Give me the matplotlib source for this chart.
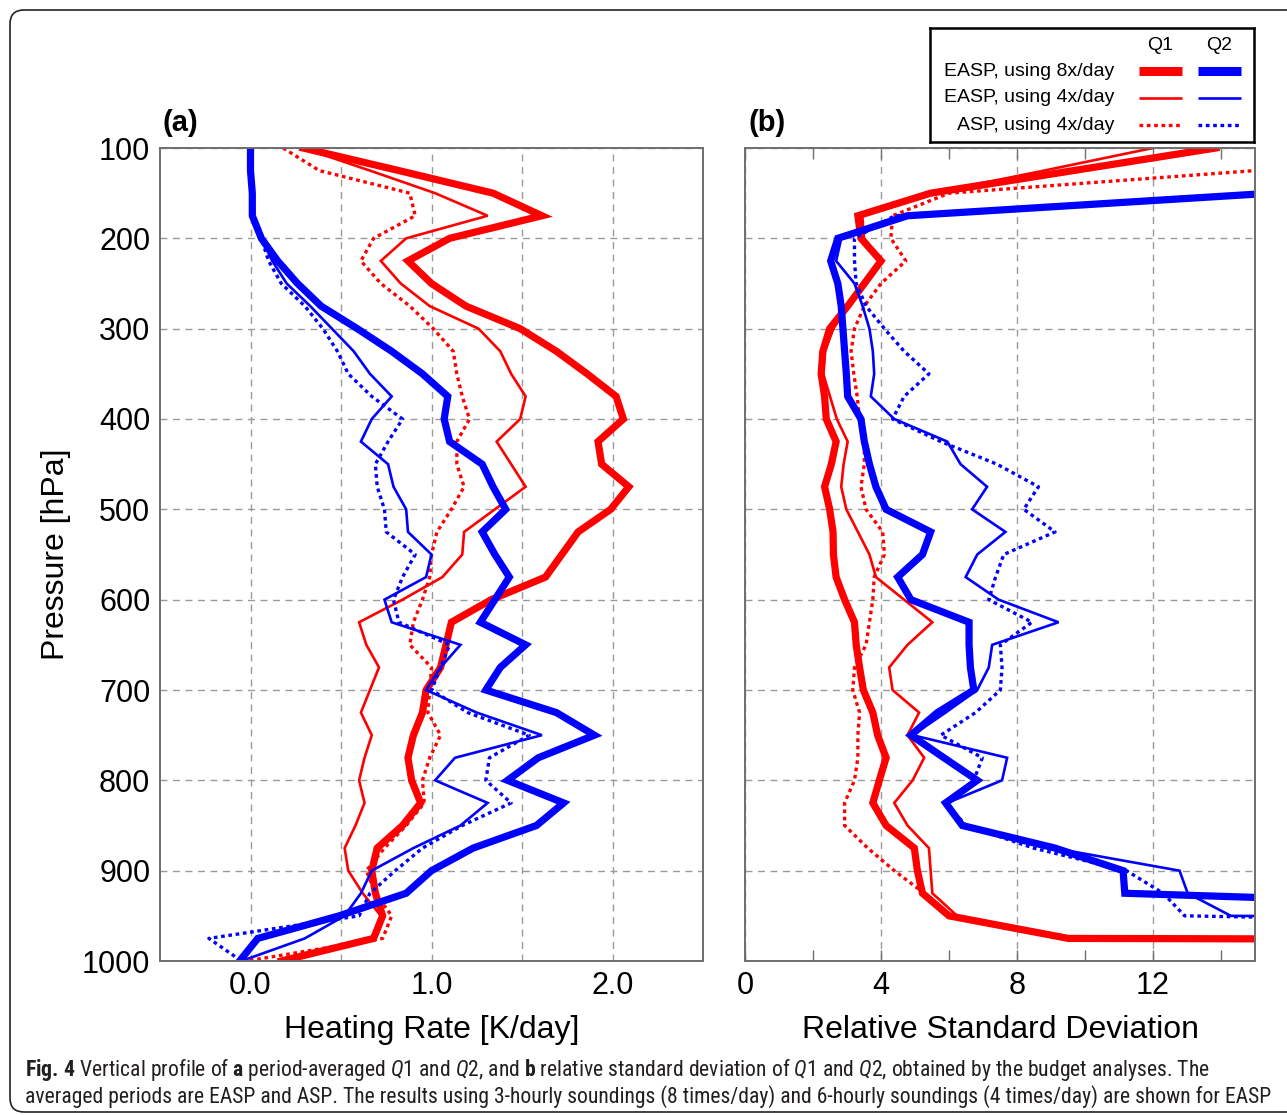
"""
plot.py

Vertical profiles of Q1 / Q2 (panel a) and their relative standard deviation (panel b).
"""

import matplotlib
matplotlib.use("Agg")
import matplotlib.pyplot as plt
from matplotlib import font_manager as fm
from matplotlib.patches import FancyBboxPatch
from matplotlib.ticker import FixedLocator


W, H = 1287, 1115
DPI  = 100

RED  = "#FF0000"
BLUE = "#0000FF"
GRID = "#9a9a9a"
EDGE = "#6e6e6e"

# ── Data (pressure levels every 25 hPa) ───────────────────────────────────────

levels = [100, 125, 150, 175, 200, 225, 250, 275, 300, 325, 350, 375, 400,
          425, 450, 475, 500, 525, 550, 575, 600, 625, 650, 675, 700,
          725, 750, 775, 800, 825, 850, 875, 900, 925, 950, 975, 1000]

# panel (a): heating rate [K/day]
q1_8x_a  = [0.29, 0.82, 1.34, 1.61, 1.10, 0.87, 1.00, 1.19, 1.49, 1.69, 1.86, 2.02, 2.06,
            1.92, 1.94, 2.09, 1.99, 1.81, 1.72, 1.63, 1.33, 1.11, 1.08, 1.05, 0.97,
            0.95, 0.90, 0.87, 0.89, 0.94, 0.84, 0.70, 0.67, 0.69, 0.73, 0.68, 0.17]
q1_4x_a  = [0.29, 0.66, 1.02, 1.31, 0.86, 0.72, 0.83, 0.99, 1.26, 1.38, 1.44, 1.52, 1.49,
            1.36, 1.44, 1.52, 1.35, 1.18, 1.17, 1.06, 0.84, 0.60, 0.64, 0.71, 0.66,
            0.61, 0.67, 0.63, 0.60, 0.63, 0.58, 0.52, 0.54, 0.62, 0.72, 0.67, 0.17]
q1_asp_a = [0.18, 0.38, 0.88, 0.91, 0.68, 0.61, 0.72, 0.88, 1.01, 1.12, 1.14, 1.17, 1.21,
            1.14, 1.14, 1.18, 1.11, 1.03, 1.00, 0.99, 0.95, 0.90, 0.88, 1.00, 0.99,
            0.98, 1.05, 0.99, 0.95, 0.96, 0.86, 0.74, 0.64, 0.69, 0.78, 0.73, -0.02]
q2_8x_a  = [0.00, 0.00, 0.01, 0.01, 0.06, 0.15, 0.26, 0.39, 0.59, 0.78, 0.95, 1.09, 1.07,
            1.10, 1.28, 1.34, 1.41, 1.28, 1.35, 1.43, 1.35, 1.27, 1.52, 1.38, 1.30,
            1.69, 1.90, 1.59, 1.42, 1.73, 1.58, 1.23, 1.00, 0.86, 0.49, 0.04, -0.06]
q2_4x_a  = [0.00, 0.00, 0.01, 0.01, 0.06, 0.12, 0.20, 0.33, 0.45, 0.57, 0.66, 0.78, 0.67,
            0.61, 0.76, 0.79, 0.86, 0.87, 1.00, 0.97, 0.74, 0.78, 1.16, 1.05, 0.97,
            1.25, 1.61, 1.13, 1.02, 1.31, 1.16, 0.90, 0.67, 0.61, 0.52, 0.30, -0.05]
q2_asp_a = [0.00, 0.00, 0.01, 0.01, 0.06, 0.10, 0.17, 0.30, 0.40, 0.48, 0.54, 0.67, 0.84,
            0.76, 0.69, 0.70, 0.74, 0.75, 0.91, 0.84, 0.79, 0.82, 1.10, 1.05, 1.00,
            1.20, 1.54, 1.32, 1.30, 1.44, 1.17, 0.95, 0.80, 0.66, 0.60, -0.23, -0.05]

# panel (b): relative standard deviation (values > 15 run off the axes)
q1_8x_b  = [13.85, 9.66, 5.46, 3.32, 3.41, 4.00, 3.51, 3.02, 2.49, 2.29, 2.24, 2.34, 2.39,
            2.68, 2.54, 2.34, 2.49, 2.59, 2.60, 2.68, 2.93, 3.22, 3.27, 3.37, 3.48,
            3.76, 3.90, 4.15, 3.95, 3.76, 4.15, 4.98, 5.07, 5.22, 6.00, 9.51, 300.0]
q1_4x_b  = [12.0, 8.8, 5.5, 3.45, 3.5, 4.05, 3.5, 3.0, 2.6, 2.35, 2.3, 2.5, 2.7,
            3.02, 2.9, 2.83, 2.98, 3.32, 3.66, 3.85, 4.68, 5.51, 4.78, 4.24, 4.34,
            5.12, 4.78, 5.27, 4.93, 4.39, 4.78, 5.41, 5.46, 5.51, 6.24, 9.51, 300.0]
q1_asp_b = [40.0, 15.0, 6.0, 4.34, 4.29, 4.73, 4.0, 3.51, 3.22, 3.12, 3.2, 3.3, 3.37,
            3.51, 3.51, 3.41, 3.56, 4.05, 4.1, 3.8, 3.76, 3.66, 3.56, 3.22, 3.17,
            3.37, 3.32, 3.32, 3.22, 2.93, 2.93, 3.61, 4.39, 5.27, 6.0, 9.51, 300.0]
q2_8x_b  = [40.0, 30.0, 15.5, 4.78, 2.73, 2.52, 2.73, 2.83, 2.88, 2.93, 2.98, 3.02, 3.41,
            3.51, 3.66, 3.85, 4.15, 5.46, 5.22, 4.49, 4.88, 6.59, 6.59, 6.63, 6.73,
            5.66, 4.88, 5.85, 6.83, 5.90, 6.39, 9.12, 11.12, 11.17, 32.0, 200.0, 200.0]
q2_4x_b  = [40.0, 30.0, 15.5, 4.6, 2.83, 2.68, 3.22, 3.46, 3.66, 3.76, 3.8, 3.7, 4.39,
            5.95, 6.34, 7.12, 6.68, 7.66, 6.83, 6.49, 7.46, 9.22, 7.27, 7.17, 6.83,
            5.9, 4.93, 7.71, 7.56, 5.95, 6.39, 9.07, 12.78, 13.02, 14.29, 100.0, 100.0]
q2_asp_b = [40.0, 30.0, 15.5, 4.4, 3.22, 3.22, 3.27, 3.56, 4.1, 4.68, 5.41, 4.68, 4.34,
            5.76, 7.41, 8.63, 8.2, 9.12, 7.61, 7.37, 7.17, 8.44, 7.51, 7.56, 7.51,
            6.78, 5.76, 6.98, 6.73, 5.90, 6.5, 8.49, 11.22, 12.3, 12.93, 50.0, 50.0]

legend_rows = ["EASP, using 8x/day", "EASP, using 4x/day", "ASP, using 4x/day"]
legend_cols = ["Q1", "Q2"]

p_ticks       = [100, 200, 300, 400, 500, 600, 700, 800, 900, 1000]
a_ticks       = [0.0, 0.5, 1.0, 1.5, 2.0]
a_ticklabels  = ["0.0", "", "1.0", "", "2.0"]
b_ticks       = [0, 4, 8, 12]
b_minor_ticks = [2, 6, 10, 14]

# ── Styles ────────────────────────────────────────────────────────────────────

STYLES = [
    dict(lw=5.2, ls="-"),
    dict(lw=1.9, ls="-"),
    dict(lw=2.4, ls=(0, (1.1, 1.1))),
]


def first_font(names):
    for n in names:
        try:
            fm.findfont(fm.FontProperties(family=n), fallback_to_default=False)
            return n
        except ValueError:
            pass
    return "DejaVu Sans"


MAIN_FONT    = first_font(["Liberation Sans", "Arial", "DejaVu Sans"])
CAPTION_FONT = first_font(["Liberation Sans Narrow", "Roboto Condensed", "Liberation Sans"])

plt.rcParams["font.family"]       = [MAIN_FONT, "DejaVu Sans"]
plt.rcParams["mathtext.fontset"]  = "custom"
plt.rcParams["mathtext.rm"]       = CAPTION_FONT
plt.rcParams["mathtext.it"]       = CAPTION_FONT + ":italic"
plt.rcParams["mathtext.bf"]       = CAPTION_FONT + ":bold"


def px_box(x0, y0, x1, y1):
    """pixel box (top-left origin) -> figure fraction rect"""
    return [x0 / W, 1 - y1 / H, (x1 - x0) / W, (y1 - y0) / H]


def style_axes(ax):
    for s in ax.spines.values():
        s.set_color(EDGE)
        s.set_linewidth(1.4)
    ax.set_ylim(1000, 100)
    ax.yaxis.set_major_locator(FixedLocator(p_ticks))
    ax.grid(True, which="major", color=GRID, ls=(0, (5, 4)), lw=1.0)
    ax.tick_params(which="both", direction="in", top=True, right=True,
                   color=EDGE, labelsize=22, pad=7)
    ax.tick_params(which="major", length=0)
    ax.tick_params(which="minor", length=8, width=1.0)
    ax.set_axisbelow(True)


fig = plt.figure(figsize=(W / DPI, H / DPI), dpi=DPI)

# outer rounded frame
fig.patches.append(FancyBboxPatch((10, 3), 1300, 1102,
                                  boxstyle="round,pad=0,rounding_size=14",
                                  transform=None, fill=False,
                                  ec="#222222", lw=1.2))

# ── Panel (a) ─────────────────────────────────────────────────────────────────
ax_a = fig.add_axes(px_box(160, 148, 703, 961))
style_axes(ax_a)
for vals, st in zip([q1_8x_a, q1_4x_a, q1_asp_a], STYLES):
    ax_a.plot(vals, levels, color=RED, solid_joinstyle="miter", **st)
for vals, st in zip([q2_8x_a, q2_4x_a, q2_asp_a], STYLES):
    ax_a.plot(vals, levels, color=BLUE, solid_joinstyle="miter", **st)
ax_a.set_xlim(-0.5, 2.5)
ax_a.set_xticks(a_ticks)
ax_a.set_xticklabels(a_ticklabels)
ax_a.set_ylabel("Pressure [hPa]", fontsize=23, labelpad=8)
ax_a.set_xlabel("Heating Rate [K/day]", fontsize=23, labelpad=10)

# ── Panel (b) ─────────────────────────────────────────────────────────────────
ax_b = fig.add_axes(px_box(745, 148, 1255, 961))
style_axes(ax_b)
for vals, st in zip([q1_8x_b, q1_4x_b, q1_asp_b], STYLES):
    ax_b.plot(vals, levels, color=RED, solid_joinstyle="miter", **st)
for vals, st in zip([q2_8x_b, q2_4x_b, q2_asp_b], STYLES):
    ax_b.plot(vals, levels, color=BLUE, solid_joinstyle="miter", **st)
ax_b.set_xlim(0, 15)
ax_b.set_xticks(b_ticks)
ax_b.xaxis.set_minor_locator(FixedLocator(b_minor_ticks))
ax_b.tick_params(axis="y", labelleft=False)
ax_b.tick_params(axis="x", which="major", length=8, width=1.0)
ax_b.set_xlabel("Relative Standard Deviation", fontsize=23, labelpad=10)

fig.text(163 / W, 1 - 123 / H, "(a)", fontsize=21, weight="bold", va="center")
fig.text(748 / W, 1 - 123 / H, "(b)", fontsize=21, weight="bold", va="center")

# ── Legend box ────────────────────────────────────────────────────────────────
lg = fig.add_axes(px_box(930, 28, 1254, 142))
lg.set_xlim(930, 1254)
lg.set_ylim(142, 28)
lg.set_xticks([])
lg.set_yticks([])
for s in lg.spines.values():
    s.set_color("black")
    s.set_linewidth(1.8)
col_x  = [(1139, 1182), (1198, 1241)]
row_y  = [71, 98, 125]
colors = [RED, BLUE]
for (x0, x1), name in zip(col_x, legend_cols):
    lg.text((x0 + x1) / 2, 46, name, fontsize=14, ha="center", va="center")
for y, row, st in zip(row_y, legend_rows, STYLES):
    lg.text(1114, y, row, fontsize=14, ha="right", va="center")
    for (x0, x1), c in zip(col_x, colors):
        lg.plot([x0, x1], [y, y], color=c, solid_capstyle="butt",
                **dict(st, lw=st["lw"] * (1.25 if st["lw"] > 5 else 1.0)))

# ── Caption ───────────────────────────────────────────────────────────────────
cap1 = (r"$\mathbf{Fig.\,4}$ Vertical profile of $\mathbf{a}$ period-averaged $\mathit{Q1}$ and "
        r"$\mathit{Q2}$, and $\mathbf{b}$ relative standard deviation of $\mathit{Q1}$ and "
        r"$\mathit{Q2}$, obtained by the budget analyses. The")
cap2 = ("averaged periods are EASP and ASP. The results using 3-hourly soundings "
        "(8 times/day) and 6-hourly soundings (4 times/day) are shown for EASP")
for y, txt in [(1070, cap1), (1097, cap2)]:
    fig.text(25 / W, 1 - y / H, txt, fontsize=15.6, family=CAPTION_FONT,
             color="#231f20", va="center", ha="left")

fig.savefig("out.png", dpi=DPI)
